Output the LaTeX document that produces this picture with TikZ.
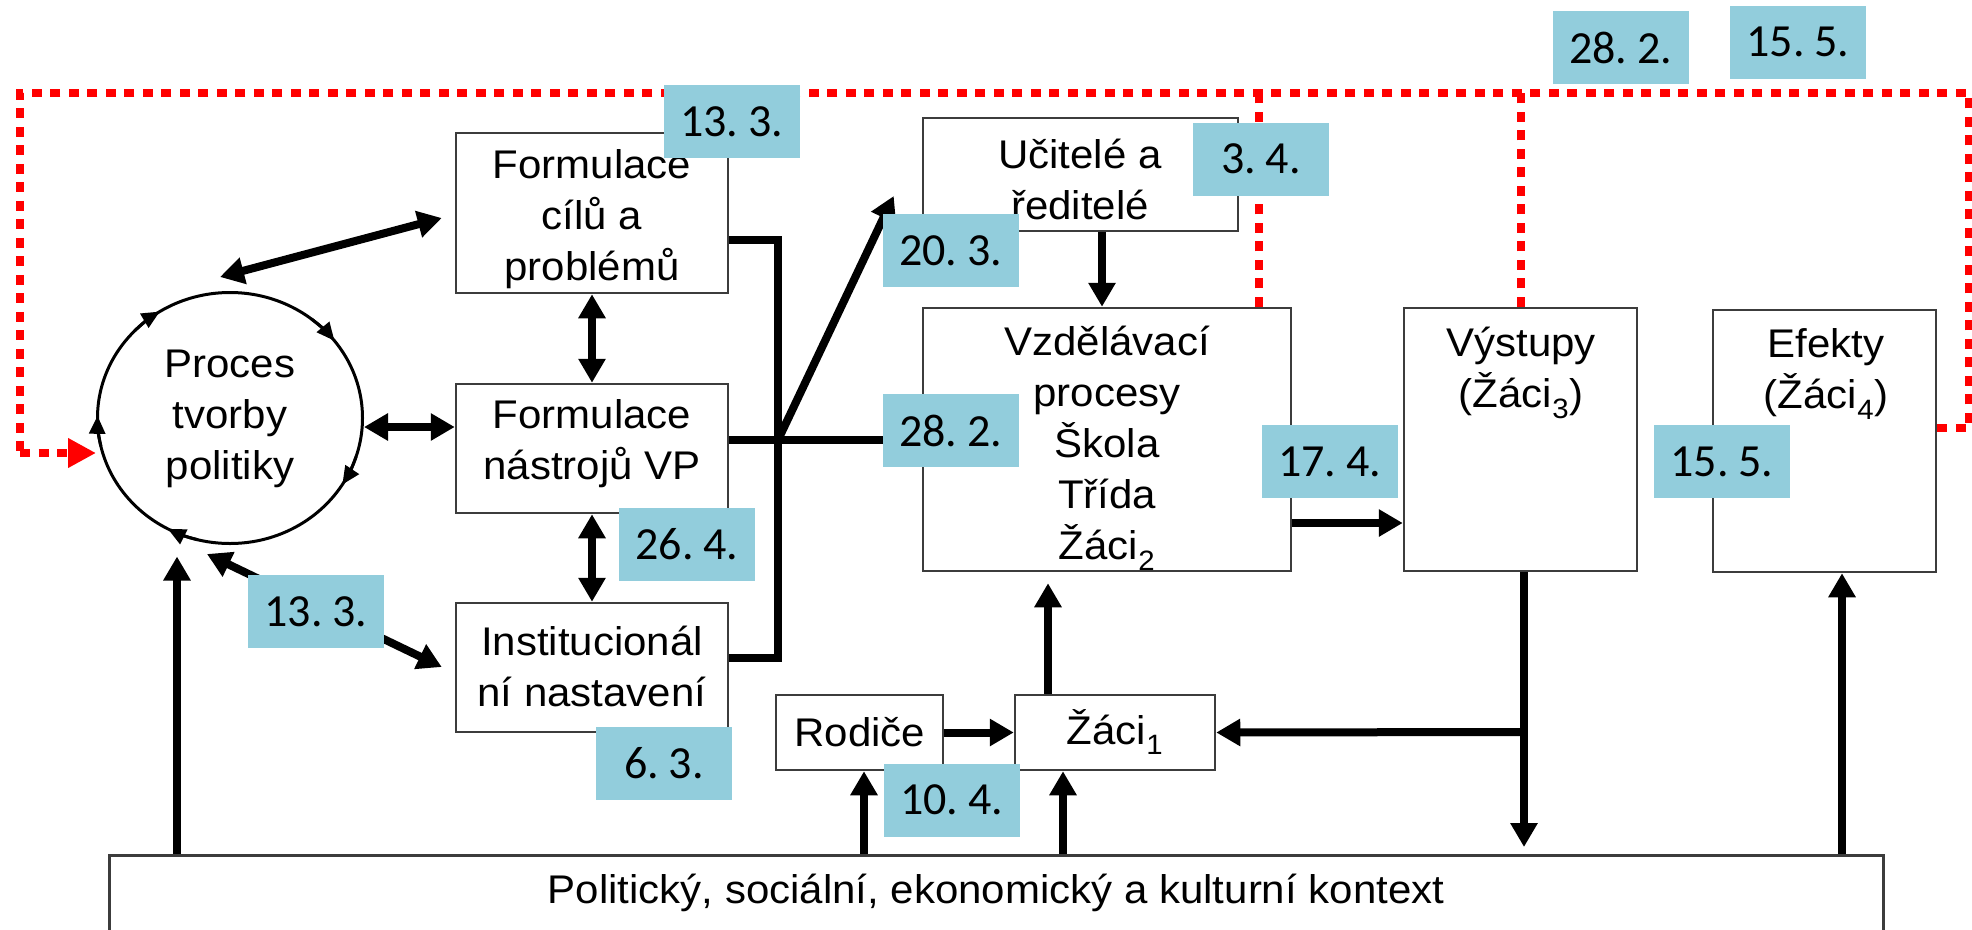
\documentclass[tikz,border=0pt]{standalone}
\usepackage{fontspec}
\setmainfont[FakeStretch=1.05]{Liberation Sans}
\newfontfamily\labfont[WordSpace=0.6]{Carlito}
\usetikzlibrary{arrows.meta,shapes.geometric,calc}
\definecolor{labblue}{RGB}{146,205,220}
\definecolor{boxgray}{RGB}{60,60,60}
\definecolor{dotred}{RGB}{255,0,0}
\begin{document}
\begin{tikzpicture}[x=1pt,y=-1pt,
  box/.style={draw=boxgray, line width=2.5pt, fill=white, inner sep=0pt},
  txt/.style={font=\fontsize{40}{51}\selectfont, align=center, inner sep=0pt},
  lab/.style={fill=labblue, minimum width=136pt, minimum height=73pt, inner sep=0pt, font=\labfont\fontsize{46}{50}\selectfont},
  conn/.style={line width=8pt, line join=miter},
  arr/.style={conn, -{Triangle[length=24pt,width=26pt]}},
  dbl/.style={conn, {Triangle[length=24pt,width=26pt]}-{Triangle[length=24pt,width=26pt]}},
  reddot/.style={draw=dotred, line width=8pt, dash pattern=on 10pt off 8.5pt},
]
\clip (0,0) rectangle (1972,929);
\useasboundingbox (0,0) rectangle (1972,929);

% boxes
\node[draw, line width=3pt, ellipse, minimum width=265pt, minimum height=251pt, inner sep=0pt] (proc) at (230,418) {};
\node[box, minimum width=272pt, minimum height=160pt] (cil) at (592,213) {};
\node[box, minimum width=272pt, minimum height=129pt] (nas) at (592,448.5) {};
\node[box, minimum width=272pt, minimum height=129pt] (ins) at (592,667.5) {};
\node[box, minimum width=315pt, minimum height=113pt] (uci) at (1080.5,174.5) {};
\node[box, minimum width=368pt, minimum height=263pt] (vzd) at (1107,439.5) {};
\node[box, minimum width=233pt, minimum height=263pt] (vys) at (1520.5,439.5) {};
\node[box, minimum width=223pt, minimum height=262pt] (efe) at (1824.5,441) {};
\node[box, minimum width=167pt, minimum height=75pt] (rod) at (859.5,732.5) {};
\node[box, minimum width=200pt, minimum height=75pt] (zak) at (1115,732.5) {};
\node[box, minimum width=1774pt, minimum height=130pt, anchor=north west] (ctx) at (108,854) {};

% texts
\node[txt] (procT) at (230,419) {Proces\\tvorby\\politiky};
\node[txt] (cilT) at (592,219) {Formulace\\cílů a\\problémů};
\node[txt] (nasT) at (592,444) {Formulace\\nástrojů VP};
\node[txt] (insT) at (592,666) {Institucionál\\ní nastavení};
\node[txt] (uciT) at (1080,179) {Učitelé a\\ředitelé};
\node[txt] (vzdT) at (1107,448) {Vzdělávací\\procesy\\Škola\\Třída\\Žáci\textsubscript{2}};
\node[txt] (vysT) at (1521,373) {Výstupy\\(Žáci\textsubscript{3})};
\node[txt] (efeT) at (1826,374) {Efekty\\(Žáci\textsubscript{4})};
\node[txt] (rodT) at (860,732) {Rodiče};
\node[txt] (zakT) at (1115,732) {Žáci\textsubscript{1}};
\node[txt] (ctxT) at (996,893) {Politický, sociální, ekonomický a kulturní kontext};

% small arrows on the cycle
\foreach \a in {238,322,32,118,181}{
  \pgfmathsetmacro{\b}{\a-14}
  \draw[line width=3pt, -{Triangle[length=18pt,width=16pt]}] ($(proc.center)+(\b:132.5 and 125.5)$) arc[start angle=\b, end angle=\a, x radius=132.5, y radius=125.5];
}

% red feedback loop
\coordinate (redNE) at (1969,93);
\coordinate (redNW) at (20,93);
\coordinate (redSW) at (20,453);
\coordinate (vzdR) at ($(vzd.north east)+(-33,0)$);
\draw[reddot] ($(efe.east)+(0,-13)$) -| (redNE) -- (redNW) -- (redSW);
\draw[reddot, -{Triangle[length=28pt,width=28pt]}] (redSW) -- ($(proc.west)+(0,35)$);
\draw[reddot] (vys.north) -- (vys.north |- redNE);
\draw[reddot] (vzdR) -- (vzdR |- redNE);

% black connectors
\coordinate (busT) at (778,240);
\coordinate (busM) at (778,440);
\coordinate (busB) at (778,658);
\coordinate (vysJ) at (1524,732);
\draw[dbl] ($(proc.north)+(-10,-14)$) -- ($(cil.west)+(-13,5)$);
\draw[dbl] ($(proc.east)+(0,9)$) -- ($(nas.west)+(0,-21.5)$);
\draw[dbl] ($(proc.south)+(-23,9)$) -- ($(ins.west)+(-13,-0.5)$);
\draw[dbl] (cil.south) -- (nas.north);
\draw[dbl] (nas.south) -- (ins.north);
\draw[conn] (cil.east |- busT) -- (busT) -- (busB) -- (ins.east |- busB);
\draw[conn] (nas.east |- vzd.west) -- (vzd.west);
\draw[arr] (busM) -- ($(uci.west)+(-28,21.5)$);
\draw[arr] ($(uci.south)+(21.5,0)$) -- ($(vzd.north)+(-5,0)$);
\draw[arr] ($(vzd.east)+(0,83.5)$) -- ($(vys.west)+(0,83.5)$);
\draw[arr] ($(zak.north)+(-67,0)$) -- ($(vzd.south)+(-59,11)$);
\draw[arr] (rod.east) -- (zak.west);
\draw[arr] ($(vys.south)+(3.5,0)$) -- ($(ctx.north west)+(1416,-7)$);
\draw[arr] (vysJ) -- (zak.east);
\draw[arr] ($(ctx.north west)+(756,0)$) -- ($(rod.south)+(4.5,0)$);
\draw[arr] ($(ctx.north west)+(955,0)$) -- ($(zak.south)+(-52,0)$);
\draw[arr] ($(ctx.north west)+(69,0)$) -- ($(proc.south)+(-53,11.5)$);
\draw[arr] ($(ctx.north west)+(1734,0)$) -- ($(efe.south)+(17.5,0)$);

% date labels
\node[lab] (l1) at (731.5,121.5) {13. 3.};
\node[lab] (l2) at (1261,159) {3. 4.};
\node[lab] (l3) at (950.5,250.5) {20. 3.};
\node[lab] (l4) at (950.5,430.5) {28. 2.};
\node[lab] (l5) at (1620.5,47.5) {28. 2.};
\node[lab] (l6) at (1798,42) {15. 5.};
\node[lab] (l7) at (1329.5,461.5) {17. 4.};
\node[lab] (l8) at (1722,461.5) {15. 5.};
\node[lab] (l9) at (687,544.5) {26. 4.};
\node[lab] (l10) at (316,611.5) {13. 3.};
\node[lab] (l11) at (664,763) {6. 3.};
\node[lab] (l12) at (951.5,800) {10. 4.};
\end{tikzpicture}
\end{document}
